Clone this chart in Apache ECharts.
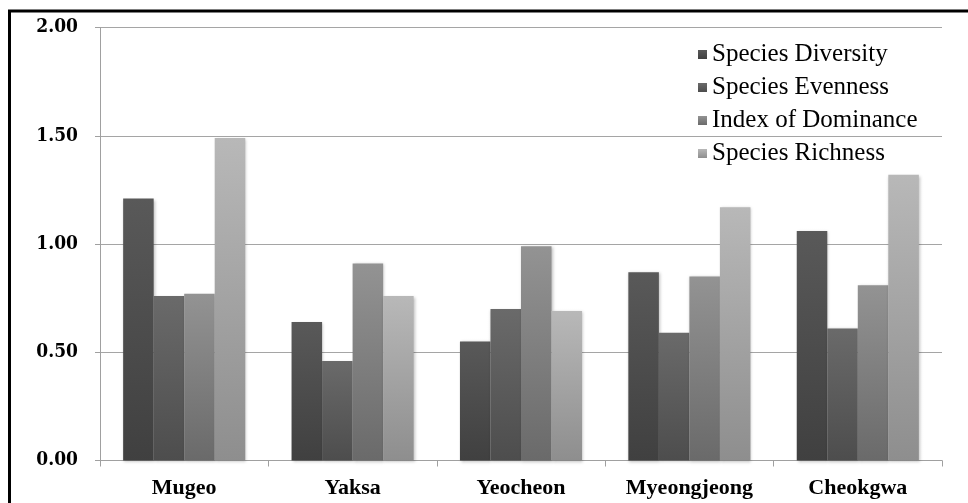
<!DOCTYPE html>
<html>
<head>
<meta charset="utf-8">
<script src="https://cdn.jsdelivr.net/npm/echarts@6/dist/echarts.min.js"></script>
<style>
html,body{margin:0;padding:0;background:#fff;}
#chart{width:968px;height:503px;}
</style>
</head>
<body>
<div id="chart"></div>
<script>
var categories = ['Mugeo', 'Yaksa', 'Yeocheon', 'Myeongjeong', 'Cheokgwa'];
var seriesNames = ['Species Diversity', 'Species Evenness', 'Index of Dominance', 'Species Richness'];
var diversity = [1.21, 0.64, 0.55, 0.87, 1.06];
var evenness = [0.76, 0.46, 0.70, 0.59, 0.61];
var dominance = [0.77, 0.91, 0.99, 0.85, 0.81];
var richness = [1.49, 0.76, 0.69, 1.17, 1.32];
var yTicks = [0, 0.5, 1.0, 1.5, 2.0];

var seriesData = [diversity, evenness, dominance, richness];
var gradients = [
  ['#595959', '#404040'],
  ['#6a6a6a', '#4d4d4d'],
  ['#939393', '#6a6a6a'],
  ['#b8b8b8', '#8e8e8e']
];

var chart = echarts.init(document.getElementById('chart'), null, {renderer: 'canvas'});

var series = seriesNames.map(function (name, i) {
  return {
    name: name,
    type: 'bar',
    data: seriesData[i],
    barGap: '0%',
    barCategoryGap: '27.5%',
    itemStyle: {
      color: new echarts.graphic.LinearGradient(0, 0, 0, 1, [
        {offset: 0, color: gradients[i][0]},
        {offset: 1, color: gradients[i][1]}
      ]),
      shadowColor: 'rgba(0,0,0,0.25)',
      shadowBlur: 3,
      shadowOffsetX: 1,
      shadowOffsetY: 1
    }
  };
});

chart.setOption({
  animation: false,
  backgroundColor: '#ffffff',
  grid: {left: 100, right: 26, top: 27.5, bottom: 42.5, containLabel: false},
  legend: {
    orient: 'vertical',
    left: 698,
    top: 42,
    padding: 0,
    itemWidth: 9,
    itemHeight: 9,
    itemGap: 8,
    itemTextGap: 4,
    icon: 'rect',
    textStyle: {fontFamily: 'Liberation Serif', fontSize: 25, lineHeight: 25, color: '#000'},
    data: seriesNames
  },
  xAxis: {
    type: 'category',
    data: categories,
    axisLine: {lineStyle: {color: '#a0a0a0', width: 1}},
    axisTick: {show: true, length: 6, lineStyle: {color: '#a0a0a0'}},
    axisLabel: {margin: 17, fontFamily: 'Liberation Serif', fontWeight: 'bold', fontSize: 22, color: '#000'}
  },
  yAxis: {
    type: 'value',
    min: 0,
    max: 2,
    interval: 0.5,
    axisLine: {show: true, lineStyle: {color: '#a0a0a0', width: 1}},
    axisTick: {show: true, length: 5, lineStyle: {color: '#a0a0a0'}},
    splitLine: {show: true, lineStyle: {color: '#a5a5a5', width: 1}},
    axisLabel: {
      margin: 22,
      fontFamily: '"DejaVu Serif Condensed", "DejaVu Serif", serif',
      fontWeight: 'bold',
      fontSize: 19,
      color: '#000',
      formatter: function (v) { return v.toFixed(2); }
    }
  },
  graphic: [{
    type: 'polyline',
    shape: {points: [[9.5, 503], [9.5, 11], [968, 11]]},
    style: {stroke: '#000', lineWidth: 3, fill: null},
    silent: true
  }],
  series: series
});
</script>
</body>
</html>
